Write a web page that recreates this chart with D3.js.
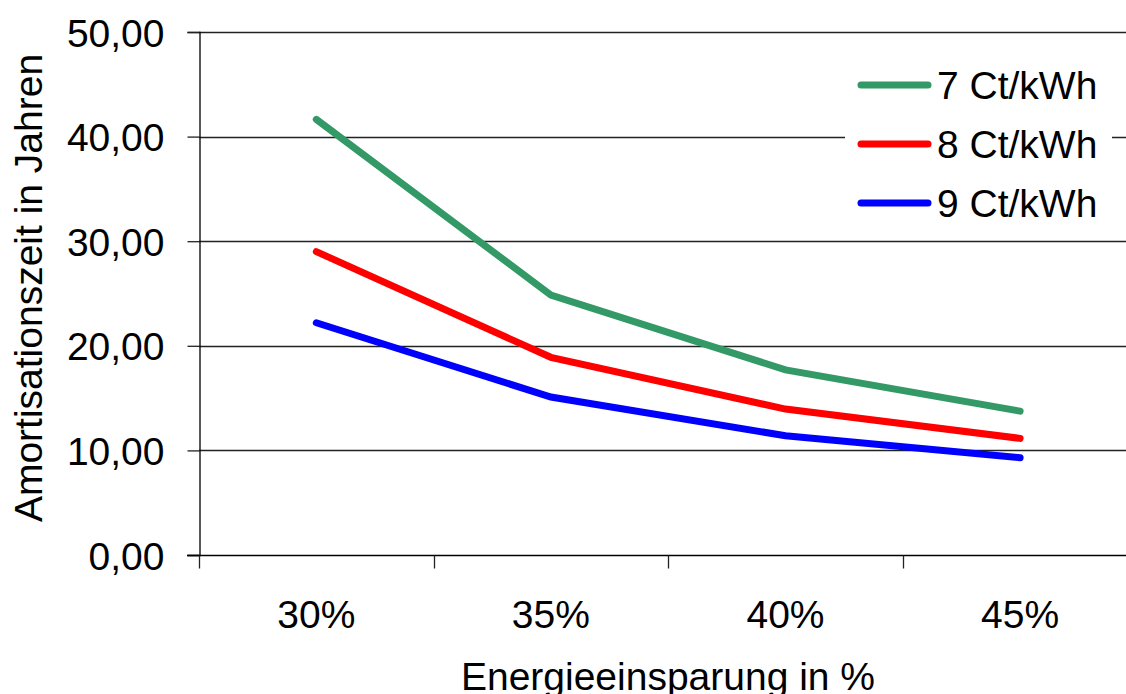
<!DOCTYPE html>
<html>
<head>
<meta charset="utf-8">
<script src="https://cdn.jsdelivr.net/npm/d3@7"></script>
<style>
  html, body { margin: 0; padding: 0; background: #fff; }
  svg { display: block; font-family: "Liberation Sans", Arial, sans-serif; }
</style>
</head>
<body>
<svg id="chart" width="1126" height="694"></svg>
<script>
// Energy saving steps (x categories)
const categories = ["30%", "35%", "40%", "45%"];
// Payback time in years per electricity price
const series7ct = [41.65, 24.85, 17.7, 13.75];
const series8ct = [29.0, 18.9, 13.95, 11.15];
const series9ct = [22.2, 15.1, 11.4, 9.3];
const seriesNames = ["7 Ct/kWh", "8 Ct/kWh", "9 Ct/kWh"];
const seriesColors = ["#339966", "#ff0000", "#0000ff"];
const yTicks = [0, 10, 20, 30, 40, 50];
const xTitle = "Energieeinsparung in %";
const yTitle = "Amortisationszeit in Jahren";

const seriesList = [series7ct, series8ct, series9ct].map((vals, i) => ({
  name: seriesNames[i], color: seriesColors[i], values: vals
}));

const FS = 39;
const svg = d3.select("#chart");
const plotLeft = 199, plotTop = 32, plotBottom = 555, bandW = 234.6;
const plotRight = plotLeft + bandW * categories.length;

const x = d3.scaleBand().domain(categories).range([plotLeft, plotRight]).paddingInner(0).paddingOuter(0);
const y = d3.scaleLinear().domain([0, 50]).range([plotBottom, plotTop]);
const de = d3.formatLocale({ decimal: ",", thousands: ".", grouping: [3], currency: ["", " €"] });
const fmt = de.format(".2f");

// horizontal gridlines
svg.append("g").selectAll("line").data(yTicks.filter(d => d > 0)).join("line")
  .attr("x1", plotLeft).attr("x2", 1126)
  .attr("y1", d => Math.round(y(d)) + 0.5).attr("y2", d => Math.round(y(d)) + 0.5)
  .attr("stroke", "#222").attr("stroke-width", 1.3);

// y axis
const yAxis = svg.append("g").attr("transform", `translate(${plotLeft + 0.5},0)`)
  .call(d3.axisLeft(y).tickValues(yTicks).tickFormat(fmt).tickSize(12).tickPadding(23));
yAxis.select(".domain").attr("stroke", "#000").attr("stroke-width", 1.3);
yAxis.selectAll(".tick line").attr("stroke", "#222").attr("stroke-width", 1.3);
yAxis.selectAll(".tick text").attr("font-size", FS).attr("fill", "#000")
  .attr("font-family", "'Liberation Sans', Arial, sans-serif").attr("dy", "0.36em");

// x axis with ticks on band boundaries
const xAxis = svg.append("g").attr("transform", `translate(0,${plotBottom + 0.5})`);
xAxis.append("line").attr("x1", plotLeft - 12).attr("x2", 1126).attr("stroke", "#000").attr("stroke-width", 1.3);
const boundaries = categories.map(c => x(c)).concat([plotRight]);
xAxis.selectAll("line.tk").data(boundaries).join("line").attr("class", "tk")
  .attr("x1", d => Math.round(d) + 0.5).attr("x2", d => Math.round(d) + 0.5)
  .attr("y1", 0).attr("y2", 13).attr("stroke", "#222").attr("stroke-width", 1.3);
xAxis.selectAll("text").data(categories).join("text")
  .attr("x", d => x(d) + x.bandwidth() / 2).attr("y", 72)
  .attr("text-anchor", "middle").attr("font-size", FS).attr("fill", "#000").text(d => d);

// axis titles
svg.append("text").attr("x", 668).attr("y", 690).attr("text-anchor", "middle")
  .attr("font-size", FS).attr("fill", "#000").text(xTitle);
svg.append("text").attr("transform", "translate(42,288) rotate(-90)").attr("text-anchor", "middle")
  .attr("font-size", FS).attr("fill", "#000").text(yTitle);

// series lines
const line = d3.line().x((d, i) => x(categories[i]) + x.bandwidth() / 2).y(d => y(d));
svg.append("g").selectAll("path").data(seriesList).join("path")
  .attr("d", d => line(d.values)).attr("fill", "none")
  .attr("stroke", d => d.color).attr("stroke-width", 7)
  .attr("stroke-linecap", "round").attr("stroke-linejoin", "miter");

// legend
const lg = svg.append("g");
lg.append("rect").attr("x", 845).attr("y", 58).attr("width", 267).attr("height", 168).attr("fill", "#fff");
const items = lg.selectAll("g.item").data(seriesList).join("g").attr("class", "item")
  .attr("transform", (d, i) => `translate(0,${85 + i * 59})`);
items.append("line").attr("x1", 861).attr("x2", 928).attr("y1", 0).attr("y2", 0)
  .attr("stroke", d => d.color).attr("stroke-width", 7).attr("stroke-linecap", "round");
items.append("text").attr("x", 937).attr("y", 14).attr("font-size", FS).attr("fill", "#000").text(d => d.name);
</script>
</body>
</html>
